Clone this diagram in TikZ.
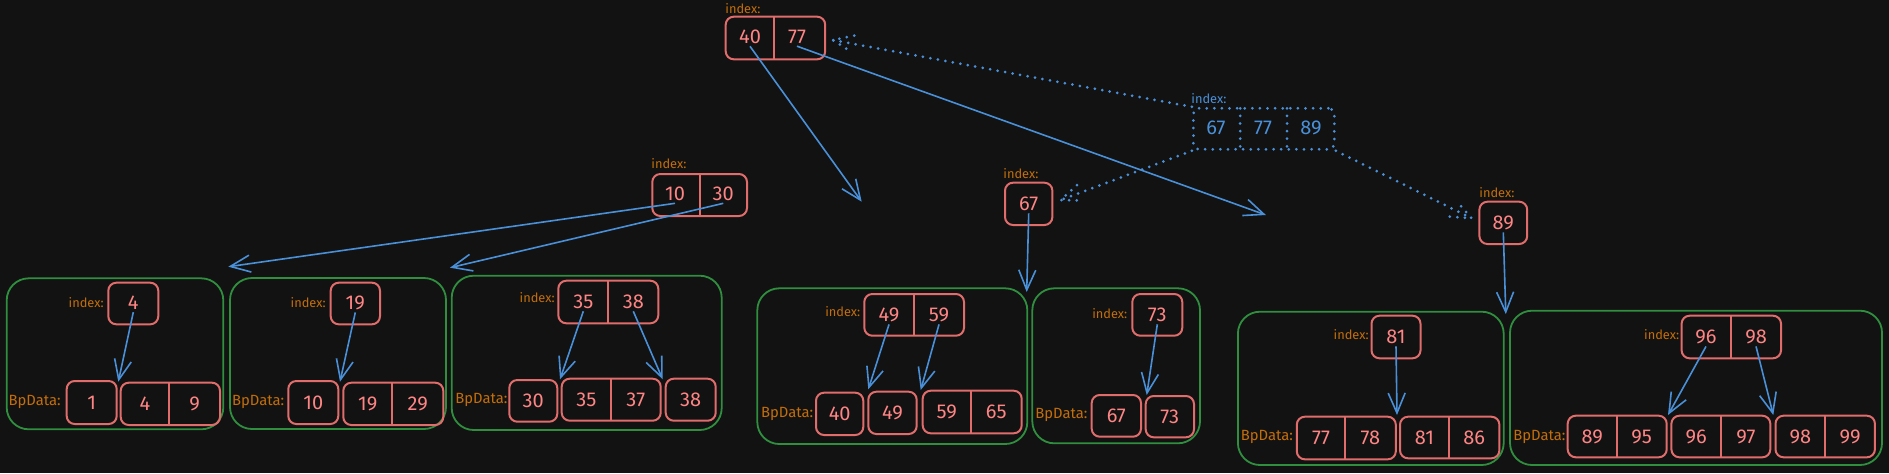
\documentclass[tikz,border=0pt]{standalone}
\usepackage{fontspec}
\setmainfont{Fira Sans}
\usetikzlibrary{arrows.meta,fit,calc}
\definecolor{bg}{HTML}{121212}
\definecolor{redline}{HTML}{E06C6C}
\definecolor{redtext}{HTML}{FF8585}
\definecolor{grn}{HTML}{2F8F3F}
\definecolor{blu}{HTML}{4A90D9}
\definecolor{org}{HTML}{C46E0A}
\tikzset{
 rbox/.style={draw=redline, line width=1pt, rounded corners=4pt, inner sep=0pt},
 dbox/.style={draw=blu, line width=1.5pt, dash pattern=on 0pt off 3.8pt, line cap=round, rounded corners=3pt, inner sep=0pt},
 gbox/.style={draw=grn, line width=0.9pt, rounded corners=11pt, inner sep=0pt},
 rdiv/.style={draw=redline, line width=1pt},
 num/.style={text=redtext, font=\fontsize{10}{12}\selectfont, inner sep=1pt},
 bnum/.style={num, text=blu},
 lbl/.style={text=org, font=\fontsize{6.4}{7}\selectfont, inner sep=0pt},
 blbl/.style={lbl, text=blu},
 bplbl/.style={text=org, font=\fontsize{7.4}{9}\selectfont, inner sep=0pt},
 arr/.style={draw=blu, line width=0.8pt, -{Straight Barb[length=10pt,width=8.5pt,line width=0.8pt]}},
 dotl/.style={draw=blu, line width=1.5pt, dash pattern=on 0pt off 3.8pt, line cap=round},
}
\newcommand\mkbox[6]{\node[#2, fit={(#3,#4) (#5,#6)}] (#1) {};}
\newcommand\mkdiv[4][rdiv]{\draw[#1] (#2,#3) -- (#2,#4);}
\newcommand\dotarrow[2]{\draw[dotl] (#1) -- (#2);
  \draw[dotl] ($(#2)!11pt!22:(#1)$) -- (#2) -- ($(#2)!11pt!-22:(#1)$);}
\begin{document}
\begin{tikzpicture}[x=0.5pt,y=-0.5pt]
\fill[bg] (0,0) rectangle (1889,473);
\useasboundingbox (0,0) rectangle (1889,473);

% ---------- containers ----------
\mkbox{C1}{gbox}{6.7}{278.3}{223.3}{429.3}
\mkbox{C2}{gbox}{230}{278}{446}{429}
\mkbox{C3}{gbox}{451.7}{275.7}{721.7}{430}
\mkbox{C4}{gbox}{757.3}{288.3}{1027.3}{444}
\mkbox{C5}{gbox}{1032.3}{288.3}{1200}{443.3}
\mkbox{C6}{gbox}{1237.9}{311.7}{1503.7}{465}
\mkbox{C7}{gbox}{1510}{310.7}{1882}{465}

% ---------- upper index nodes ----------
\mkbox{T}{rbox}{725.7}{16.7}{825.2}{59.3} \mkdiv{773.8}{16.7}{59.3}
\node[lbl, anchor=base west] (lT) at (725,13.5) {index:};
\node[num] (tT40) at (750,37) {40};
\node[num] (tT77) at (797,37) {77};

\mkbox{D}{dbox}{1193.4}{108.3}{1334.3}{149.3}
\mkdiv[dotl]{1240.2}{108.3}{149.3} \mkdiv[dotl]{1287}{108.3}{149.3}
\node[blbl, anchor=base west] (lD) at (1191,103.5) {index:};
\node[bnum] (tD67) at (1216,128) {67};
\node[bnum] (tD77) at (1263,128) {77};
\node[bnum] (tD89) at (1311,128) {89};

\mkbox{N1030}{rbox}{652.3}{174}{747}{216} \mkdiv{700}{174}{216}
\node[lbl, anchor=base west] (lN1030) at (651,168.5) {index:};
\node[num] (tN10) at (675,194) {10};
\node[num] (tN30) at (723.3,194) {30};

\mkbox{N67}{rbox}{1005}{182.7}{1052.4}{225}
\node[lbl, anchor=base west] (lN67) at (1003,178.5) {index:};
\node[num] (tN67) at (1028.7,204) {67};

\mkbox{N89}{rbox}{1479.4}{201.7}{1527.2}{244}
\node[lbl, anchor=base west] (lN89) at (1479,197.5) {index:};
\node[num] (tN89) at (1503.3,223) {89};

% ---------- C1 ----------
\mkbox{I4}{rbox}{108.3}{282.7}{158.3}{324.3}
\node[lbl, anchor=base east] (lI4) at (104,307.5) {index:};
\node[num] (tI4) at (133.3,303) {4};
\mkbox{D1}{rbox}{66.7}{381}{116.7}{424}
\node[num] (tD1) at (91.7,402.5) {1};
\mkbox{D49}{rbox}{120.7}{382.7}{220}{425} \mkdiv{169.3}{382.7}{425}
\node[num] (tD49a) at (145,404) {4};
\node[num] (tD49b) at (194.6,404) {9};
\node[bplbl, anchor=base west] (bp1) at (8.3,405.5) {BpData:};

% ---------- C2 ----------
\mkbox{I19}{rbox}{330.7}{282.7}{380}{324.3}
\node[lbl, anchor=base east] (lI19) at (326,307.5) {index:};
\node[num] (tI19) at (355.3,303) {19};
\mkbox{D10}{rbox}{288.3}{381}{338.3}{424}
\node[num] (tD10) at (313.3,402.5) {10};
\mkbox{D1929}{rbox}{343.3}{382.7}{443.3}{425} \mkdiv{392.3}{382.7}{425}
\node[num] (tD1929a) at (367.8,404) {19};
\node[num] (tD1929b) at (417.8,404) {29};
\node[bplbl, anchor=base west] (bp2) at (231.7,405.5) {BpData:};

% ---------- C3 ----------
\mkbox{I3538}{rbox}{558.3}{280.7}{658.3}{323.3} \mkdiv{608.3}{280.7}{323.3}
\node[lbl, anchor=base east] (lI3538) at (555,302.5) {index:};
\node[num] (tI35) at (583.3,302) {35};
\node[num] (tI38) at (633.3,302) {38};
\mkbox{D30}{rbox}{509.3}{380}{557.3}{421.7}
\node[num] (tD30) at (533.3,401) {30};
\mkbox{D3537}{rbox}{561.7}{378.7}{660.7}{420.7} \mkdiv{611}{378.7}{420.7}
\node[num] (tD3537a) at (586.3,400) {35};
\node[num] (tD3537b) at (635.8,400) {37};
\mkbox{D38}{rbox}{665.7}{378.7}{715.7}{420.7}
\node[num] (tD38) at (690.7,400) {38};
\node[bplbl, anchor=base west] (bp3) at (455,403.5) {BpData:};

% ---------- C4 ----------
\mkbox{I4959}{rbox}{864.3}{294}{964}{335.7} \mkdiv{914}{294}{335.7}
\node[lbl, anchor=base east] (lI4959) at (860.7,316.5) {index:};
\node[num] (tI49) at (889,315) {49};
\node[num] (tI59) at (939,315) {59};
\mkbox{D40}{rbox}{816}{392.7}{863.3}{435}
\node[num] (tD40) at (839.7,414) {40};
\mkbox{D49b}{rbox}{868.3}{391.7}{916.7}{434}
\node[num] (tD49c) at (892.5,413) {49};
\mkbox{D5965}{rbox}{922.7}{390.7}{1021.7}{433.3} \mkdiv{970.7}{390.7}{433.3}
\node[num] (tD5965a) at (946.7,412) {59};
\node[num] (tD5965b) at (996.2,412) {65};
\node[bplbl, anchor=base west] (bp4) at (760.7,417.5) {BpData:};

% ---------- C5 ----------
\mkbox{I73}{rbox}{1132.3}{294}{1182.3}{335.7}
\node[lbl, anchor=base east] (lI73) at (1127.7,318) {index:};
\node[num] (tI73) at (1157.3,315) {73};
\mkbox{D67}{rbox}{1091.7}{395}{1141}{436.7}
\node[num] (tD67b) at (1116.3,416) {67};
\mkbox{D73}{rbox}{1145.7}{396}{1194}{437.3}
\node[num] (tD73) at (1169.8,417) {73};
\node[bplbl, anchor=base west] (bp5) at (1035,418.5) {BpData:};

% ---------- C6 ----------
\mkbox{I81}{rbox}{1371.5}{315.7}{1420.5}{358.3}
\node[lbl, anchor=base east] (lI81) at (1369,339) {index:};
\node[num] (tI81) at (1396,337) {81};
\mkbox{D7778}{rbox}{1296.8}{416.7}{1395.8}{459.3} \mkdiv{1345}{416.7}{459.3}
\node[num] (tD7778a) at (1321,438) {77};
\node[num] (tD7778b) at (1370.4,438) {78};
\mkbox{D8186}{rbox}{1400}{416.7}{1499.4}{458.3} \mkdiv{1449}{416.7}{458.3}
\node[num] (tD8186a) at (1424.5,437.5) {81};
\node[num] (tD8186b) at (1474.2,437.5) {86};
\node[bplbl, anchor=base west] (bp6) at (1240.5,440) {BpData:};

% ---------- C7 ----------
\mkbox{I9698}{rbox}{1681.6}{315.7}{1781}{358.3} \mkdiv{1730.7}{315.7}{358.3}
\node[lbl, anchor=base east] (lI9698) at (1679.5,339) {index:};
\node[num] (tI96) at (1706,337) {96};
\node[num] (tI98) at (1756,337) {98};
\mkbox{D8995}{rbox}{1567.7}{415.7}{1666.7}{457.3} \mkdiv{1616.8}{415.7}{457.3}
\node[num] (tD8995a) at (1592.3,436.5) {89};
\node[num] (tD8995b) at (1641.7,436.5) {95};
\mkbox{D9697}{rbox}{1671.4}{415.7}{1770.3}{457.3} \mkdiv{1721.3}{415.7}{457.3}
\node[num] (tD9697a) at (1696.3,436.5) {96};
\node[num] (tD9697b) at (1745.8,436.5) {97};
\mkbox{D9899}{rbox}{1775.5}{415.7}{1874.9}{457.3} \mkdiv{1825}{415.7}{457.3}
\node[num] (tD9899a) at (1800.3,436.5) {98};
\node[num] (tD9899b) at (1850,436.5) {99};
\node[bplbl, anchor=base west] (bp7) at (1513,440) {BpData:};

% ---------- arrow end points ----------
\coordinate (e40) at (861.7,201.7);
\coordinate (e77) at (1265.9,215);
\coordinate (e10) at (228.3,266.7);
\coordinate (e30) at (450,267.7);
\coordinate (e67) at (1026.7,292);
\coordinate (e89) at (1505.8,314);
\coordinate (eI4) at (118.3,381.7);
\coordinate (eI19) at (340,381.7);
\coordinate (eI35) at (560,379.3);
\coordinate (eI38) at (662.7,379.3);
\coordinate (eI49) at (868.3,389.3);
\coordinate (eI59) at (920.7,390);
\coordinate (eI73) at (1146.7,395);
\coordinate (eI81) at (1397,415);
\coordinate (eI96) at (1668,415);
\coordinate (eI98) at (1773.3,415);
\coordinate (dt1) at (832.7,40);
\coordinate (dt2) at (1060.7,200);
\coordinate (dt3) at (1471.7,218.3);

% ---------- arrows ----------
\draw[arr] (tT40.south) -- (e40);
\draw[arr] (tT77.south) -- (e77);
\draw[arr] (tN10.south) -- (e10);
\draw[arr] (tN30.south) -- (e30);
\draw[arr] (tN67.south) -- (e67);
\draw[arr] (tN89.south) -- (e89);
\draw[arr] (tI4.south) -- (eI4);
\draw[arr] (tI19.south) -- (eI19);
\draw[arr] (tI35.south) -- (eI35);
\draw[arr] (tI38.south) -- (eI38);
\draw[arr] (tI49.south) -- (eI49);
\draw[arr] (tI59.south) -- (eI59);
\draw[arr] (tI73.south) -- (eI73);
\draw[arr] (tI81.south) -- (eI81);
\draw[arr] (tI96.south) -- (eI96);
\draw[arr] (tI98.south) -- (eI98);

% ---------- dotted arrows ----------
\dotarrow{D.north west}{dt1}
\dotarrow{D.south west}{dt2}
\dotarrow{D.south east}{dt3}
\end{tikzpicture}
\end{document}
